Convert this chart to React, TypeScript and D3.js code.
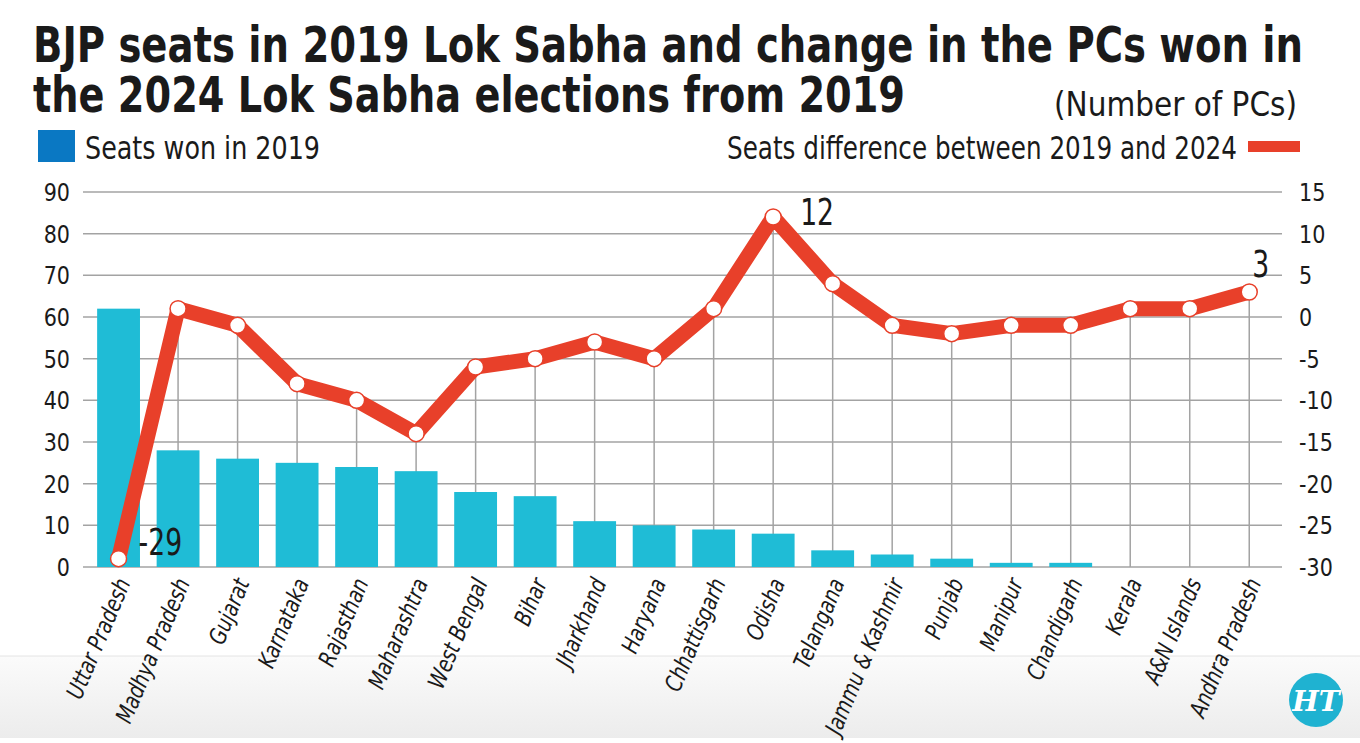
import * as d3 from "d3";

const states = [
  "Uttar Pradesh", "Madhya Pradesh", "Gujarat", "Karnataka", "Rajasthan",
  "Maharashtra", "West Bengal", "Bihar", "Jharkhand", "Haryana",
  "Chhattisgarh", "Odisha", "Telangana", "Jammu & Kashmir", "Punjab",
  "Manipur", "Chandigarh", "Kerala", "A&N Islands", "Andhra Pradesh",
];
const seats2019 = [62, 28, 26, 25, 24, 23, 18, 17, 11, 10, 9, 8, 4, 3, 2, 1, 1, 0, 0, 0];
const seatsDiff = [-29, 1, -1, -8, -10, -14, -6, -5, -3, -5, 1, 12, 4, -1, -2, -1, -1, 1, 1, 3];
const leftTicks = [0, 10, 20, 30, 40, 50, 60, 70, 80, 90];
const rightTicks = [-30, -25, -20, -15, -10, -5, 0, 5, 10, 15];
const labelled = ["Uttar Pradesh", "Odisha", "Andhra Pradesh"];

const W = 1360;
const H = 743;
const BLUE = "#1fbcd6";
const RED = "#e8402a";
const GRID = "#a3a3a3";
const INK = "#1a1a1a";
const narrow = "'DejaVu Sans Condensed', 'Liberation Sans Narrow', sans-serif";

export default function App() {
  const x = d3.scaleBand<string>().domain(states).range([88.8, 1279]);
  const cx = (s: string) => (x(s) ?? 0) + x.bandwidth() / 2;
  const yL = d3.scaleLinear().domain([0, 90]).range([567, 192]);
  const yR = d3.scaleLinear().domain([-30, 15]).range([567, 192]);
  const barW = x.bandwidth() * 0.72;

  const line = d3
    .line<number>()
    .x((_, i) => cx(states[i]))
    .y((d) => yR(d));

  // offsets of the value callouts from their markers
  const labelPos: Record<string, { dx: number; dy: number }> = {
    "Uttar Pradesh": { dx: 20, dy: -4 },
    Odisha: { dx: 27, dy: 8 },
    "Andhra Pradesh": { dx: 3, dy: -15 },
  };

  return (
    <div style={{ position: "absolute", left: 0, top: 0 }}>
      <svg width={W} height={H} style={{ display: "block", background: "#fff" }}>
        <defs>
          <linearGradient id="foot" x1="0" y1="0" x2="0" y2="1">
            <stop offset="0" stopColor="#fbfbfb" />
            <stop offset="1" stopColor="#ececec" />
          </linearGradient>
        </defs>
        <rect x={0} y={656} width={W} height={82} fill="url(#foot)" />
        <line x1={0} x2={W} y1={656} y2={656} stroke="#e4e4e4" />

        {/* title */}
        <text
          x={33}
          y={62}
          fontFamily={narrow}
          fontWeight={700}
          fontSize={49}
          fill={INK}
          textLength={1270}
          lengthAdjust="spacingAndGlyphs"
        >
          BJP seats in 2019 Lok Sabha and change in the PCs won in
        </text>
        <text
          x={33}
          y={112}
          fontFamily={narrow}
          fontWeight={700}
          fontSize={49}
          fill={INK}
          textLength={872}
          lengthAdjust="spacingAndGlyphs"
        >
          the 2024 Lok Sabha elections from 2019
        </text>
        <text
          x={1054}
          y={116}
          fontFamily={narrow}
          fontSize={34}
          fill={INK}
          textLength={243}
          lengthAdjust="spacingAndGlyphs"
        >
          (Number of PCs)
        </text>

        {/* legend */}
        <rect x={38} y={130} width={37} height={32} fill="#0a78c3" />
        <text
          x={85}
          y={159}
          fontFamily={narrow}
          fontSize={32}
          fill={INK}
          textLength={235}
          lengthAdjust="spacingAndGlyphs"
        >
          Seats won in 2019
        </text>
        <text
          x={727}
          y={159}
          fontFamily={narrow}
          fontSize={32}
          fill={INK}
          textLength={510}
          lengthAdjust="spacingAndGlyphs"
        >
          Seats difference between 2019 and 2024
        </text>
        <rect x={1248} y={141} width={52} height={11} fill={RED} />

        {/* horizontal grid */}
        {leftTicks.map((t) => (
          <line key={t} x1={83} x2={1282} y1={yL(t)} y2={yL(t)} stroke={GRID} strokeWidth={1.5} />
        ))}
        {/* drop lines */}
        {states.map((s, i) => (
          <line
            key={s}
            x1={cx(s)}
            x2={cx(s)}
            y1={yR(seatsDiff[i])}
            y2={yL(0)}
            stroke={GRID}
            strokeWidth={1.5}
          />
        ))}

        {/* axis labels */}
        {leftTicks.map((t) => (
          <text
            key={t}
            transform={`translate(70,${yL(t) + 9}) scale(0.92,1)`}
            textAnchor="end"
            fontFamily={narrow}
            fontSize={25}
            fill={INK}
          >
            {t}
          </text>
        ))}
        {rightTicks.map((t) => (
          <text
            key={t}
            transform={`translate(1299,${yR(t) + 9}) scale(0.92,1)`}
            fontFamily={narrow}
            fontSize={25}
            fill={INK}
          >
            {t}
          </text>
        ))}

        {/* bars */}
        {states.map((s, i) => (
          <rect
            key={s}
            x={cx(s) - barW / 2}
            y={yL(seats2019[i])}
            width={barW}
            height={yL(0) - yL(seats2019[i])}
            fill={BLUE}
          />
        ))}

        {/* difference line */}
        <path
          d={line(seatsDiff) ?? ""}
          fill="none"
          stroke={RED}
          strokeWidth={15}
          strokeLinejoin="round"
          strokeLinecap="round"
        />
        {states.map((s, i) => (
          <circle key={s} cx={cx(s)} cy={yR(seatsDiff[i])} r={8} fill="#fff" stroke={RED} strokeWidth={1.5} />
        ))}
        {states.map((s, i) =>
          labelled.includes(s) ? (
            <text
              key={s}
              transform={`translate(${cx(s) + labelPos[s].dx},${yR(seatsDiff[i]) + labelPos[s].dy}) scale(0.78,1)`}
              fontFamily={narrow}
              fontSize={38}
              fill={INK}
            >
              {seatsDiff[i]}
            </text>
          ) : null
        )}

        {/* category labels */}
        {states.map((s) => (
          <text
            key={s}
            transform={`translate(${cx(s) + 6},${yL(0) + 13}) rotate(-67) scale(0.88,1)`}
            textAnchor="end"
            dominantBaseline="middle"
            fontFamily={narrow}
            fontStyle="italic"
            fontSize={23.5}
            fill={INK}
          >
            {s}
          </text>
        ))}

        {/* HT badge */}
        <circle cx={1316} cy={700} r={27} fill="#1fb2d1" />
        <text
          x={1316}
          y={711}
          textAnchor="middle"
          fontFamily="'DejaVu Serif', serif"
          fontWeight={700}
          fontStyle="italic"
          fontSize={28}
          fill="#fff"
        >
          HT
        </text>
      </svg>
    </div>
  );
}
